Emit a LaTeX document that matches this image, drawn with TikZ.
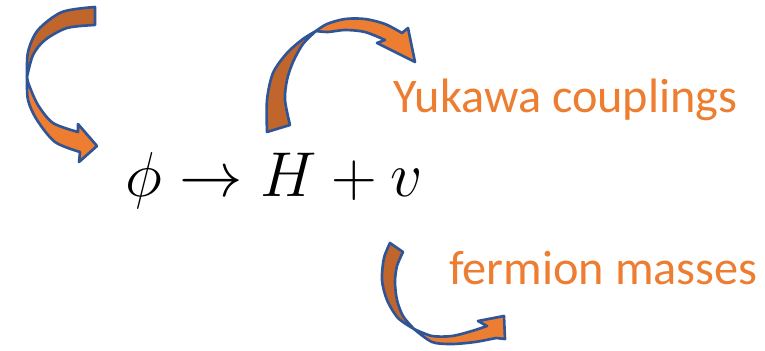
\documentclass[tikz,border=0pt]{standalone}
\usepackage{amsmath}
\usepackage{fontspec}
\setmainfont{Carlito}
\definecolor{naranja}{HTML}{ED7D31}
\definecolor{naranjaosc}{HTML}{C0652B}
\definecolor{bordeazul}{HTML}{2F5597}

\begin{document}
\begin{tikzpicture}[x=0.02cm, y=-0.02cm,
    dorso/.style={fill=naranjaosc, draw=bordeazul, line width=1.5pt, line join=round},
    cara/.style={fill=naranja, draw=bordeazul, line width=1.5pt, line join=round},
    texto/.style={text=naranja, font=\fontsize{27.5}{33}\selectfont, inner sep=0pt, anchor=base west}]
    % Marco de la figura (pixeles)
    \useasboundingbox (0,0) rectangle (765,351);

    % Flecha curva izquierda: parte trasera y delantera
    \filldraw[dorso] plot[smooth] coordinates {(95,7) (62,12) (38,30) (28,52) (27,77)}
        -- plot[smooth] coordinates {(27,77) (33,55) (45,40) (67,28) (95,25)} -- cycle;
    \filldraw[cara] plot[smooth] coordinates {(27,77) (28,100) (37,120) (55,142) (80,152)}
        -- (79,162) -- (97,146) -- (78,124)
        -- plot[smooth] coordinates {(78,132) (53,123) (38,105) (29,85) (27,77)} -- cycle;

    % Flecha curva de arriba (hacia Yukawa)
    \filldraw[dorso] plot[smooth] coordinates {(267,132) (267,100) (273,73) (287,53) (303,39) (316,31)}
        -- plot[smooth] coordinates {(316,31) (303,44) (293,62) (287,80) (285,100) (290,125)} -- cycle;
    \filldraw[cara] plot[smooth] coordinates {(316,31) (327,24) (345,19) (365,19) (385,24) (402,33)}
        -- (408,28) -- (415,62) -- (377,43)
        -- plot[smooth] coordinates {(385,40) (365,32) (345,30) (328,32) (316,31)} -- cycle;

    % Flecha curva de abajo (hacia masas)
    \filldraw[dorso] plot[smooth] coordinates {(390,243) (384,258) (382,280) (387,300) (398,318) (414,329)}
        -- plot[smooth] coordinates {(414,329) (403,316) (397,300) (395,282) (397,266) (403,252)} -- cycle;
    \filldraw[cara] plot[smooth] coordinates {(414,329) (432,336) (452,336) (472,331) (487,326)}
        -- (478,321) -- (504,316) -- (505,339)
        -- plot[smooth] coordinates {(496,338) (475,342) (452,344) (432,342) (414,329)} -- cycle;

    % Campo y textos
    \node[font=\Huge, scale=1.45, transform shape, inner sep=0pt, anchor=base west] (campo) at (125,197) {$\phi \to H + v$};
    \node[texto] (yukawa) at (393,113) {Yukawa couplings};
    \node[texto] (masas) at (449,285) {fermion masses};
\end{tikzpicture}
\end{document}
